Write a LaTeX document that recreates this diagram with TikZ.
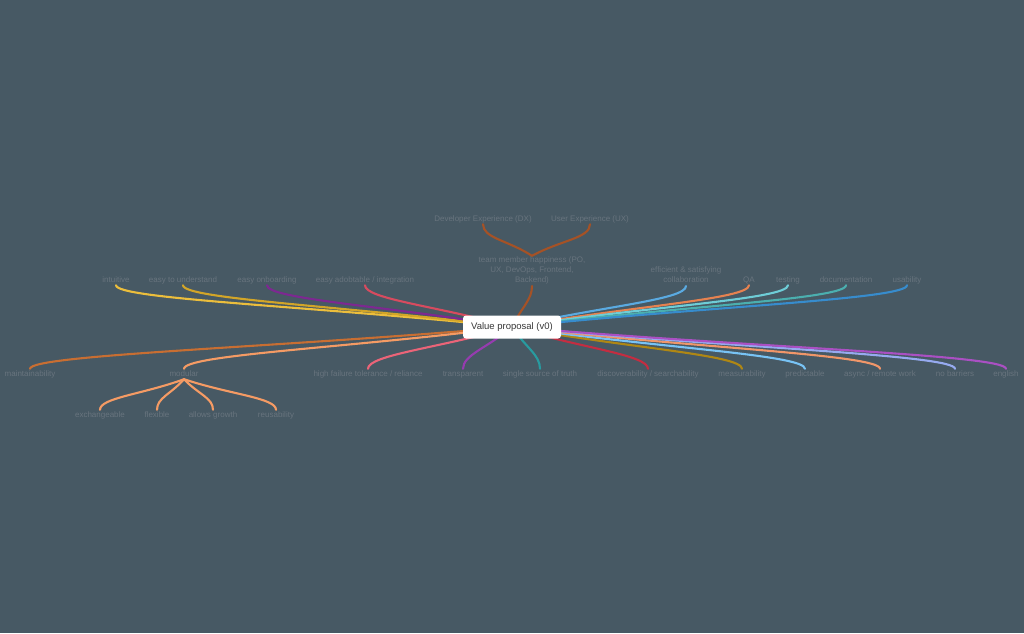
\documentclass[tikz,border=0pt]{standalone}
\usepackage{fontspec}
\setmainfont{Liberation Sans}
\usetikzlibrary{calc,backgrounds}

\definecolor{bgc}{RGB}{71,89,100}
\definecolor{txtc}{RGB}{104,116,126}
\definecolor{cteam}{RGB}{165,82,38}
\definecolor{cintu}{RGB}{236,190,60}
\definecolor{cund}{RGB}{210,165,40}
\definecolor{conb}{RGB}{125,40,145}
\definecolor{cadop}{RGB}{215,75,95}
\definecolor{ceff}{RGB}{90,170,225}
\definecolor{cqa}{RGB}{230,130,80}
\definecolor{ctest}{RGB}{110,205,215}
\definecolor{cdoc}{RGB}{75,175,175}
\definecolor{cusab}{RGB}{55,140,205}
\definecolor{cmaint}{RGB}{200,110,50}
\definecolor{cmod}{RGB}{245,155,100}
\definecolor{chft}{RGB}{235,100,120}
\definecolor{ctransp}{RGB}{150,60,175}
\definecolor{cssot}{RGB}{40,155,160}
\definecolor{cdisc}{RGB}{195,45,65}
\definecolor{cmeas}{RGB}{175,135,20}
\definecolor{cpred}{RGB}{120,195,245}
\definecolor{casync}{RGB}{240,150,105}
\definecolor{cnobar}{RGB}{150,170,240}
\definecolor{ceng}{RGB}{170,80,195}

\tikzset{
  lbl/.style={anchor=base, inner sep=1pt, text height=6pt, text depth=2pt, text=txtc, font=\fontsize{8}{10}\selectfont},
  lbltwo/.style={inner sep=1pt, text depth=2pt, align=center, text=txtc, font=\fontsize{8}{10}\selectfont},
  br/.style={line width=2.1pt, line cap=round},
  rootbox/.style={fill=white, rounded corners=3pt, minimum width=98pt, minimum height=23pt, inner sep=0pt, text={rgb,255:red,55;green,55;blue,55}, font=\fontsize{9.5}{11}\selectfont}
}

\begin{document}
\begin{tikzpicture}[x=1pt, y=-1pt]
\useasboundingbox (0,0) rectangle (1024,633);

% centre
\node[rootbox] (root) at (512,327) {Value proposal (v0)};

% upper branch
\node[lbl] (dx) at (483,221) {Developer Experience (DX)};
\node[lbl] (ux) at (590,221) {User Experience (UX)};
\node[lbltwo, anchor=south] (team) at (532,286) {team member happiness (PO,\\UX, DevOps, Frontend,\\Backend)};

% top row
\node[lbl] (intu) at (116,282) {intuitive};
\node[lbl] (und) at (183,282) {easy to understand};
\node[lbl] (onb) at (267,282) {easy onboarding};
\node[lbl] (adop) at (365,282) {easy adobtable / integration};
\node[lbltwo, anchor=south] (eff) at (686,286) {efficient \& satisfying\\collaboration};
\node[lbl] (qa) at (749,282) {QA};
\node[lbl] (test) at (788,282) {testing};
\node[lbl] (doc) at (846,282) {documentation};
\node[lbl] (usab) at (907,282) {usability};

% bottom row
\node[lbl] (maint) at (30,376) {maintainability};
\node[lbl] (mod) at (184,376) {modular};
\node[lbl] (hft) at (368,376) {high failure tolerance / reliance};
\node[lbl] (transp) at (463,376) {transparent};
\node[lbl] (ssot) at (540,376) {single source of truth};
\node[lbl] (disc) at (648,376) {discoverability / searchability};
\node[lbl] (meas) at (742,376) {measurability};
\node[lbl] (pred) at (805,376) {predictable};
\node[lbl] (async) at (880,376) {async / remote work};
\node[lbl] (nobar) at (955,376) {no barriers};
\node[lbl] (eng) at (1006,376) {english};

% below modular
\node[lbl] (exch) at (100,417) {exchangeable};
\node[lbl] (flex) at (157,417) {flexible};
\node[lbl] (grow) at (213,417) {allows growth};
\node[lbl] (reuse) at (276,417) {reusability};

\begin{pgfonlayer}{background}
\fill[bgc] (0,0) rectangle (1024,633);

\draw[br, cteam] (dx.south) .. controls +(0,14) and ($(dx.south)!0.5!(team.north)$) .. (team.north);
\draw[br, cteam] (ux.south) .. controls +(0,14) and ($(ux.south)!0.5!(team.north)$) .. (team.north);
\draw[br, cteam] (team.south) .. controls +(0,14) and ($(team.south)!0.5!(root.center)$) .. (root.center);

\draw[br, cintu] (intu.south) .. controls +(0,14) and ($(intu.south)!0.5!(root.center)$) .. (root.center);
\draw[br, cund] (und.south) .. controls +(0,14) and ($(und.south)!0.5!(root.center)$) .. (root.center);
\draw[br, conb] (onb.south) .. controls +(0,14) and ($(onb.south)!0.5!(root.center)$) .. (root.center);
\draw[br, cadop] (adop.south) .. controls +(0,14) and ($(adop.south)!0.5!(root.center)$) .. (root.center);
\draw[br, ceff] (eff.south) .. controls +(0,14) and ($(eff.south)!0.5!(root.center)$) .. (root.center);
\draw[br, cqa] (qa.south) .. controls +(0,14) and ($(qa.south)!0.5!(root.center)$) .. (root.center);
\draw[br, ctest] (test.south) .. controls +(0,14) and ($(test.south)!0.5!(root.center)$) .. (root.center);
\draw[br, cdoc] (doc.south) .. controls +(0,14) and ($(doc.south)!0.5!(root.center)$) .. (root.center);
\draw[br, cusab] (usab.south) .. controls +(0,14) and ($(usab.south)!0.5!(root.center)$) .. (root.center);

\draw[br, cmaint] (maint.north) .. controls +(0,-14) and ($(maint.north)!0.5!(root.center)$) .. (root.center);
\draw[br, cmod] (mod.north) .. controls +(0,-14) and ($(mod.north)!0.5!(root.center)$) .. (root.center);
\draw[br, chft] (hft.north) .. controls +(0,-14) and ($(hft.north)!0.5!(root.center)$) .. (root.center);
\draw[br, ctransp] (transp.north) .. controls +(0,-14) and ($(transp.north)!0.5!(root.center)$) .. (root.center);
\draw[br, cssot] (ssot.north) .. controls +(0,-14) and ($(ssot.north)!0.5!(root.center)$) .. (root.center);
\draw[br, cdisc] (disc.north) .. controls +(0,-14) and ($(disc.north)!0.5!(root.center)$) .. (root.center);
\draw[br, cmeas] (meas.north) .. controls +(0,-14) and ($(meas.north)!0.5!(root.center)$) .. (root.center);
\draw[br, cpred] (pred.north) .. controls +(0,-14) and ($(pred.north)!0.5!(root.center)$) .. (root.center);
\draw[br, casync] (async.north) .. controls +(0,-14) and ($(async.north)!0.5!(root.center)$) .. (root.center);
\draw[br, cnobar] (nobar.north) .. controls +(0,-14) and ($(nobar.north)!0.5!(root.center)$) .. (root.center);
\draw[br, ceng] (eng.north) .. controls +(0,-14) and ($(eng.north)!0.5!(root.center)$) .. (root.center);

\draw[br, cmod] (exch.north) .. controls +(0,-12) and ($(exch.north)!0.5!(mod.south)$) .. (mod.south);
\draw[br, cmod] (flex.north) .. controls +(0,-12) and ($(flex.north)!0.5!(mod.south)$) .. (mod.south);
\draw[br, cmod] (grow.north) .. controls +(0,-12) and ($(grow.north)!0.5!(mod.south)$) .. (mod.south);
\draw[br, cmod] (reuse.north) .. controls +(0,-12) and ($(reuse.north)!0.5!(mod.south)$) .. (mod.south);
\end{pgfonlayer}

\end{tikzpicture}
\end{document}
